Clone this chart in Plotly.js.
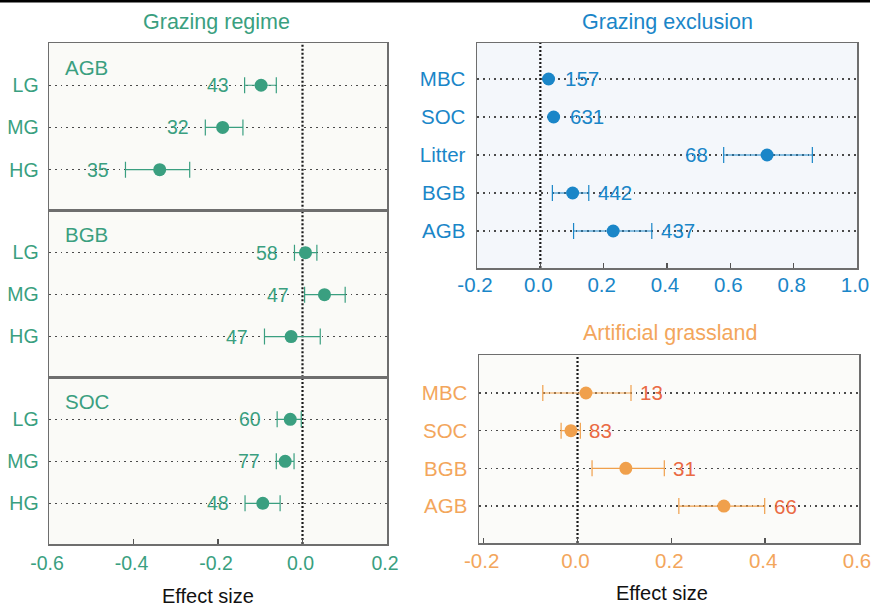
<!DOCTYPE html>
<html>
<head>
<meta charset="utf-8">
<script src="https://cdn.plot.ly/plotly-3.0.1.min.js"></script>
<style>html,body{margin:0;padding:0;background:#fff;}#chart{width:884px;height:606px;}</style>
</head>
<body>
<div id="chart"></div>
<script>
// ---------- DATA ----------
const GR_CATS = ['LG', 'MG', 'HG'];
const GR_AGB_MEAN = [-0.098, -0.189, -0.338];
const GR_AGB_LO   = [-0.137, -0.230, -0.419];
const GR_AGB_HI   = [-0.062, -0.141, -0.267];
const GR_AGB_N    = [43, 32, 35];

const GR_BGB_MEAN = [0.007, 0.052, -0.027];
const GR_BGB_LO   = [-0.019, 0.005, -0.090];
const GR_BGB_HI   = [0.034, 0.101, 0.042];
const GR_BGB_N    = [58, 47, 47];

const GR_SOC_MEAN = [-0.029, -0.041, -0.094];
const GR_SOC_LO   = [-0.060, -0.062, -0.136];
const GR_SOC_HI   = [-0.003, -0.020, -0.053];
const GR_SOC_N    = [60, 77, 48];

// CI of MBC and SOC lies hidden inside the marker (not readable) -> null
const EX_CATS = ['MBC', 'SOC', 'Litter', 'BGB', 'AGB'];
const EX_MEAN = [0.026, 0.042, 0.716, 0.102, 0.230];
const EX_LO   = [null, null, 0.579, 0.038, 0.105];
const EX_HI   = [null, null, 0.859, 0.153, 0.352];
const EX_N    = [157, 631, 68, 442, 437];

const AG_CATS = ['MBC', 'SOC', 'BGB', 'AGB'];
const AG_MEAN = [0.018, -0.014, 0.103, 0.312];
const AG_LO   = [-0.074, -0.035, 0.031, 0.216];
const AG_HI   = [0.114, 0.006, 0.185, 0.399];
const AG_N    = [13, 83, 31, 66];

const GR_TICKS = [-0.6, -0.4, -0.2, 0.0, 0.2];
const EX_TICKS = [-0.2, 0.0, 0.2, 0.4, 0.6, 0.8, 1.0];
const AG_TICKS = [-0.2, 0.0, 0.2, 0.4, 0.6];

// ---------- STYLE ----------
const FONT = 'Liberation Sans, Arial, Helvetica, sans-serif';
const TEAL = '#3a9f80';
const BLUE = '#1a86c8';
const ORANGE = '#f0a04c';
const ORANGE_TXT = '#f3a65c';
const RED_TXT = '#ea6a44';
const BOX = '#6e6e6e';
const W = 884, H = 606;
const px = v => v / W;
const py = v => 1 - v / H;

const traces = [];
const annotations = [];
const shapes = [];
const layout = {
  width: W, height: H,
  margin: {l: 0, r: 0, t: 0, b: 0},
  paper_bgcolor: '#ffffff',
  plot_bgcolor: 'rgba(0,0,0,0)',
  showlegend: false,
  font: {family: FONT},
};

function tickFmt(v) { return v.toFixed(1); }

function panel(cfg) {
  const k = cfg.k;
  const xn = k === 1 ? 'x' : 'x' + k, yn = k === 1 ? 'y' : 'y' + k;
  const xa = k === 1 ? 'xaxis' : 'xaxis' + k, ya = k === 1 ? 'yaxis' : 'yaxis' + k;
  const idx = c => cfg.order.indexOf(c);
  traces.push({
    type: 'scatter', mode: 'markers',
    x: cfg.mean, y: cfg.cats.map(idx),
    xaxis: xn, yaxis: yn,
    marker: {size: 13, color: cfg.color},
    error_x: {
      type: 'data', symmetric: false,
      array: cfg.hi.map((h, i) => h == null ? NaN : h - cfg.mean[i]),
      arrayminus: cfg.lo.map((l, i) => l == null ? NaN : cfg.mean[i] - l),
      color: cfg.color, thickness: 1.2, width: 8
    },
    hoverinfo: 'x+y'
  });
  layout[xa] = {
    domain: cfg.xdom, anchor: yn, range: cfg.xrange,
    tickvals: cfg.ticks, ticktext: cfg.ticks.map(tickFmt),
    showticklabels: cfg.showX, ticks: cfg.showX ? 'inside' : '',
    ticklen: 5, tickwidth: 1.5, tickcolor: '#555',
    tickfont: {family: FONT, size: cfg.fs, color: cfg.tickColor},
    showgrid: false, zeroline: false,
    showline: true, mirror: true, linecolor: BOX, linewidth: 1.5,
    ticklabelstandoff: cfg.xStand, ticklabelshift: -2
  };
  if (cfg.matches) layout[xa].matches = cfg.matches;
  layout[ya] = {
    domain: cfg.ydom, anchor: xn, range: cfg.yrange,
    tickvals: cfg.order.map((c, i) => i), ticktext: cfg.order,
    tickfont: {family: FONT, size: cfg.fs, color: cfg.tickColor},
    ticks: '', showgrid: true, gridcolor: '#4a4a4a', gridwidth: 1.3, griddash: '1.8px,4px',
    zeroline: false, showline: true, mirror: true, linecolor: BOX, linewidth: 1.5,
    ticklabelstandoff: cfg.yStand
  };
  shapes.push({type: 'rect', xref: xn + ' domain', yref: yn + ' domain', x0: 0, x1: 1, y0: 0, y1: 1,
    fillcolor: cfg.bg, line: {width: 0}, layer: 'below'});
  shapes.push({type: 'line', xref: xn, yref: yn + ' domain', x0: 0, x1: 0, y0: 0, y1: 1,
    line: {color: '#1a1a1a', width: 2.2, dash: '2px,2px'}, layer: 'below'});
  cfg.cats.forEach((c, i) => {
    const side = cfg.sides ? cfg.sides[i] : cfg.side;
    const hasCI = cfg.lo[i] != null && cfg.hi[i] != null;
    const xv = hasCI ? (side === 'left' ? cfg.lo[i] : cfg.hi[i]) : cfg.mean[i];
    annotations.push({
      xref: xn, yref: yn, x: xv, y: idx(c),
      text: String(cfg.n[i]), showarrow: false,
      xanchor: side === 'left' ? 'right' : 'left',
      xshift: side === 'left' ? -14 : (hasCI ? 7 : 14),
      font: {family: FONT, size: cfg.fs, color: cfg.nColor}
    });
  });
  if (cfg.label) {
    annotations.push({
      xref: xn + ' domain', yref: yn + ' domain', x: 0.041, y: 0.856,
      text: cfg.label, showarrow: false, xanchor: 'left', yanchor: 'middle',
      font: {family: FONT, size: 20.5, color: cfg.color}
    });
  }
}

const GR_ORDER = ['HG', 'MG', 'LG'];
const grX = [px(49), px(387)];
const grY = [py(544), py(377.33), py(210.67), py(43)];
const grCommon = {order: GR_ORDER, cats: GR_CATS, color: TEAL, tickColor: TEAL, nColor: TEAL,
  xdom: grX, xrange: [-0.6, 0.2], ticks: GR_TICKS, yrange: [-0.97, 3], fs: 19.5, side: 'left',
  bg: '#fafaf7', xStand: 1, yStand: 5};

panel(Object.assign({}, grCommon, {k: 1, ydom: [grY[0], grY[1]], showX: true,
  mean: GR_SOC_MEAN, lo: GR_SOC_LO, hi: GR_SOC_HI, n: GR_SOC_N, label: 'SOC'}));
panel(Object.assign({}, grCommon, {k: 2, ydom: [grY[1], grY[2]], showX: false, matches: 'x',
  mean: GR_BGB_MEAN, lo: GR_BGB_LO, hi: GR_BGB_HI, n: GR_BGB_N, label: 'BGB'}));
panel(Object.assign({}, grCommon, {k: 3, ydom: [grY[2], grY[3]], showX: false, matches: 'x',
  mean: GR_AGB_MEAN, lo: GR_AGB_LO, hi: GR_AGB_HI, n: GR_AGB_N, label: 'AGB'}));

const EX_SIDES = ['right', 'right', 'left', 'right', 'right'];
panel({k: 4, order: EX_CATS.slice().reverse(), cats: EX_CATS, color: BLUE, tickColor: BLUE, nColor: BLUE,
  xdom: [px(477), px(857)], ydom: [py(268), py(43)], xrange: [-0.2, 1.0], ticks: EX_TICKS,
  yrange: [-0.974, 4.947], fs: 20.5, sides: EX_SIDES, bg: '#f4f7fb', showX: true, xStand: -2, yStand: 6,
  mean: EX_MEAN, lo: EX_LO, hi: EX_HI, n: EX_N});

panel({k: 5, order: AG_CATS.slice().reverse(), cats: AG_CATS, color: ORANGE, tickColor: ORANGE_TXT, nColor: RED_TXT,
  xdom: [px(479), px(859)], ydom: [py(543), py(355)], xrange: [-0.21, 0.6], ticks: AG_TICKS,
  yrange: [-0.98, 4.008], fs: 20.5, side: 'right', bg: '#fbfbf9', showX: true, xStand: -1, yStand: 6,
  mean: AG_MEAN, lo: AG_LO, hi: AG_HI, n: AG_N});

const titles = [
  {text: 'Grazing regime', x: 216, y: 22, color: TEAL},
  {text: 'Grazing exclusion', x: 667, y: 22, color: BLUE},
  {text: 'Artificial grassland', x: 670, y: 333, color: ORANGE_TXT},
  {text: 'Effect size', x: 208, y: 596, color: '#111'},
  {text: 'Effect size', x: 662, y: 593, color: '#111'},
];
titles.forEach(t => annotations.push({
  xref: 'paper', yref: 'paper', x: px(t.x), y: py(t.y), text: t.text, showarrow: false,
  xanchor: 'center', yanchor: 'middle',
  font: {family: FONT, size: t.color === '#111' ? 20 : 21.5, color: t.color}
}));

shapes.push({type: 'line', xref: 'paper', yref: 'paper', x0: 0, x1: px(870), y0: py(1.2), y1: py(1.2),
  line: {color: '#000', width: 2.5}});

layout.annotations = annotations;
layout.shapes = shapes;

Plotly.newPlot('chart', traces, layout, {displayModeBar: false, staticPlot: true});
</script>
</body>
</html>
